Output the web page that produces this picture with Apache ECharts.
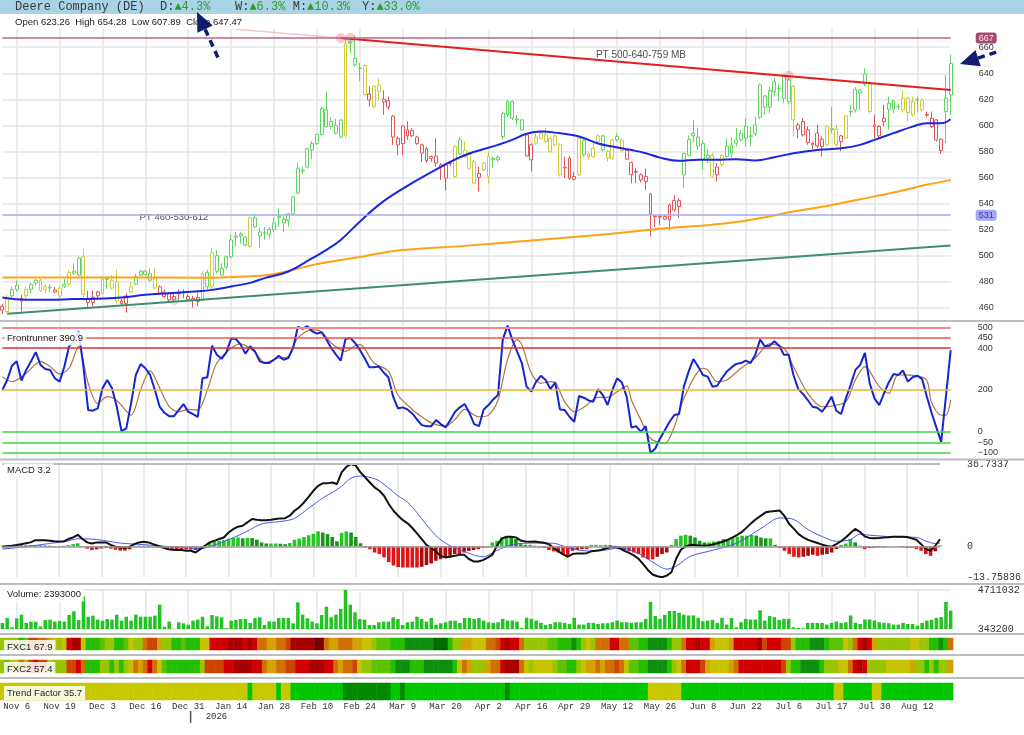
<!DOCTYPE html>
<html><head><meta charset="utf-8">
<script src="https://cdn.jsdelivr.net/npm/echarts@6/dist/echarts.min.js"></script>
<style>html,body{margin:0;padding:0;background:#fff}#c{width:1024px;height:735px}</style>
</head><body><div id="c"></div>
<script>
// ---------- categories (trading days) ----------
const closedOrMissing = new Set(['2025-11-27','2025-12-25','2025-12-26','2026-01-01','2026-01-19','2026-02-16','2026-04-03','2026-05-25','2026-06-19','2026-07-03']);
const MON = ['Jan','Feb','Mar','Apr','May','Jun','Jul','Aug','Sep','Oct','Nov','Dec'];
const dates = [], years = [];
for (let t = Date.UTC(2025,10,3); dates.length < 200; t += 86400000) {
  const d = new Date(t), wd = d.getUTCDay();
  if (wd === 0 || wd === 6) continue;
  if (closedOrMissing.has(d.toISOString().slice(0,10))) continue;
  dates.push(MON[d.getUTCMonth()] + ' ' + d.getUTCDate());
  years.push(d.getUTCFullYear());
}
const tickLabels = ['Nov 6','Nov 19','Dec 3','Dec 16','Dec 31','Jan 14','Jan 28','Feb 10','Feb 24','Mar 9','Mar 20','Apr 2','Apr 16','Apr 29','May 12','May 26','Jun 8','Jun 22','Jul 6','Jul 17','Jul 30','Aug 12'];
const priceTicks = [460,480,500,520,540,560,580,600,620,640,660];
const frontTicks = [500,450,400,200,0,-50,-100];
const macdTicks = [36.7337,0,-13.75836];
const volTicks = [4711032,343200];

// ---------- price (OHLC) ----------
const opens = [
458,457,469,474,465,469,474,479,481,474, 475,472,469,478,478,488,485,499,467,464,
472,471,481.5,481,480,465,463,472,478,485, 485.5,486,483,476,472,471,466,470.5,471.5,468.5,
465.4,464.7,466,487,476,500,485,491,499,514, 515,514,507,529,518,517,516,520,529,525,
527,532,548,565,568,581,586,593,612,599, 594,604,592,664,651.5,643.5,646,624,614.5,626,
618,619,607,585,586,596.5,592,591,585,582, 574.7,576.5,568.3,569.6,570.5,560.7,588.8,576,578.6,572.2,
560,566,560.7,573.5,573.5,591.4,608,618.3,604.2,604.2, 592.7,573.5,586.3,590.1,592.7,590.1,585,585,567.3,574.7,
558.6,562,588.3,576,582.4,587.5,591.9,579.9,574.7,591.4, 588.8,580.6,571.4,564,562,556.8,547.3,529.8,529.5,527.9,
527.4,535,537.6,562,577,594,591,586,575,577, 562,570,576,578.6,586.3,594,590.1,591.5,593.4,606.2,
622.6,613.9,625.9,628.2,637.5,618.3,629.8,600.3,602.9,596.5, 585,594,583.7,585,596.8,597,587.5,590.1,610.3,611.9,
627.2,631.8,631.8,600.3,599.1,603,612,619,614.2,611.9, 620.8,608,619.5,619.5,607.8,605.5,604.2,589.3,610.6,623.26];
const highs = [
463,470,476,481,470,476,479,482,482,478, 478,476,476,482,489,494,499,505,473,473,
473,484,484,485,489,467,471,480,486,489, 489,490,490,477,474,472,471,474,474,470,
469,471,488,489,506,504,494,500,516,518, 518,515,530,532,521,522,522,529,536,530,
533,546,571,568,583,588,593.5,614,626,606, 605,605,668,667,669,648,647,630,630.5,636,
627,622,608,591.5,600,603,598,592,586,583.7, 577,590,571,571,572,585,590.9,587.5,579.9,573.5,
568.3,572.2,579.9,576,577,610.6,619.5,619,608,604.7, 593.4,586.3,593.9,595.2,597.8,591.9,593.4,586.3,576,576,
564.5,591.4,589.3,579,586.3,593.4,592.7,581.1,590.1,593.9, 590.1,581.6,572.2,567,563.2,567,547.8,531,532,531.5,
540,546.5,544,579,592,604,598,589,582,579, 571,578,590,591,597.8,596.5,605.5,599,606.7,632.3,
623.4,629.8,636.2,632.3,638.8,638,631,602.1,605.5,599.1, 587.5,600.3,591.4,600.3,614.4,600.3,592.7,608,615.7,629.3,
627.7,643.9,633.6,608,600.3,615.7,622.1,619.5,616.5,627.2, 622.1,622.1,622.1,620.8,610.6,610.6,604.7,590.1,638.7,654.28];
const lows = [
455,456,467,472,457,467,471,477,472,471, 472,471,467,475,476,485,484,468,460,461,
467,470,474,474,463,461,456,471,477,484, 484,480,474,470,467,465,465,466,467,465,
460,461,465,474,474,486,484,489,498,507, 509,507,506,521,506,512,513,518,522,518,
522,531,547,563,567,574,585,592,598,597, 593,590,590,655,645,634,623,614.5,613,619.5,
608,612,585,577,577,589,591,585,572,571, 572,568,558,550,568.5,559.4,577.3,575,565.8,555,
549.1,564.5,555.5,567,572,589.3,606.7,604.2,600.3,596, 576,564.5,585,588.8,586.3,578.6,583.7,560.7,559.4,558,
557.6,560.7,576,573.5,574.7,586.3,579.9,572.2,573.5,587.5, 579.9,573.5,555.5,555.5,556,550.4,514.6,522,523.5,527.4,
519.7,533.7,528.7,552,576,587,581,566,571,560, 557,568,575,575,583.7,587.5,583.7,584,591.9,604.7,
608,609.3,622.1,618.3,617,616,591.4,590.1,591.4,585, 581.6,582.4,576,583.7,594,583.7,579.9,589.3,606.7,609.8,
611.9,629.8,609.3,590.1,589.3,599.1,597,609.3,611.9,609.8, 602.9,606.7,610.6,610.6,606.2,597.8,587.5,578,586.3,607.89];
const closes = [
461,468,474,477,467,474,477.5,481,473,476, 475.6,473.5,475,476,487,486.5,498,470,464,468,
469,482,482.5,475,465,463,469,476,484,488, 488,481,475,471,468.5,466,468.5,472,472.2,466,
467,467.7,486,476,502,488,490,499,512,515, 516.5,508,529,522,515,517.6,520,525,530,528,
532,545,567,565.6,582,586,593,613,599,603, 600,591,663,663,646.4,644,623.5,619.5,630,631,
620,614,591,590,599.5,592,596,586,578.6,573, 576,571,569.6,559.4,571,583.7,578,581,567,555.5,
563,571,576,574.7,575.5,609.3,618.3,605.5,604.8,596.5, 576.5,585,590.9,594,587.5,579.9,591.9,562,567.8,559.4,
560.7,590.1,577.3,578,576,591.9,581.1,574.7,588.8,588.8, 580.6,574,562,564.5,558,560.7,532,530.2,530,530,
538.9,542.2,542.2,578.5,589,592,584,574,577,561, 568,577,584,585,588.8,588.8,599.1,592,600.3,631,
613.9,626.7,633.6,628.6,620.8,634.9,604.2,597,592.7,586.8, 586.3,584.2,589.3,599.1,597.5,585,591.9,607.3,610.8,627.7,
624.7,639.5,610.6,599,591.9,605.5,617,612.4,614.6,620.8, 609.8,618.3,620,611.9,608.3,599.1,588.8,580.6,620.8,647.47];
// candle tone: g = green, y = yellow, r = red
const candleTone = (
 'ryggryggyy'+'grygyggyrr'+'rygyyrrygg'+'ggyrrrrrrr'+'rrygyggggg'+
 'ggyggggggg'+'gggggggggg'+'ggygggyryy'+'rrrrrrrrrr'+'rrrrrygyyy'+
 'ryyggggggg'+'rryyyyyyrr'+'rygyyygyyg'+'yrrrrrrrrr'+'rrrggggggy'+
 'rygggggggg'+'ggggggyrrr'+'rrrygyrygg'+'ggyrrrgggy'+'yygyrrrrgg').split('');

// moving averages & trendlines [barIndex, price]
const ma50 = [[0,467.7],[5,466],[10,466],[15,466.5],[20,466.7],[25,467.7],[30,469.8],[35,471],[40,472.3],[44,473.6],[48,476.2],[52,479],[55,482.6],[60,487.7],[65,497.9],[68,504.3],[71,512],[75,526],[79,538.9],[83,549],[90,564],[97,577],[104,585],[107,588.8],[110,593.5],[113,595.2],[116,594.4],[121,591.4],[125,586],[128,583.7],[132,581],[135,578.6],[138,575.2],[142,572.7],[146,573.5],[150,573.5],[154,574],[158,573],[162,575.5],[166,578.6],[171,581.1],[176,582.4],[180,585],[183,588.8],[187,594],[191,599],[194,601.6],[197,601.6],[199,604.7]];
const ma200 = [[0,483.1],[20,483.1],[44,483],[54,484.4],[58,486.5],[61,489],[66,493.5],[70,496],[76,499.5],[83,503.8],[97,507.4],[111,511.5],[125,515.8],[138,520.5],[145,522.5],[152,524.8],[159,528.7],[166,533.8],[173,538.1],[180,543.2],[187,548.4],[194,554.3],[199,558.1]];
const redTrend = [[71,667],[199,627.2]];
const redTrendFaint = [[49,673.8],[71,667]];
const greenTrend = [[1,455.2],[199,507.7]];
const resistance = 667, support = 531;
const touchPoints = [[71,667],[73,667],[165,638]];
const grayPoint = [[36,465]];
const notes = [{at:[134,654], text:'PT 500-640-759 MB'}, {at:[36,529], text:'PT 460-530-612'}];

// ---------- Frontrunner ----------
const frontrunner = [
200,248,316,337,245,296,337,381,320,300, 296,256,240,312,409,433,481,312,104,101,
112,208,248,208,120,3,16,136,272,324, 304,272,200,120,91,75,75,104,133,96,
85,72,256,261,412,369,349,380,446,444, 417,373,409,385,337,329,329,345,364,345,
353,401,502,492,505,481,470,476,441,401, 369,341,444,449,425,393,353,309,309,312,
284,261,168,112,117,107,88,59,32,27, 27,56,37,21,56,96,117,133,91,37,
27,107,128,155,176,441,508,441,385,329, 216,192,240,268,248,204,236,107,104,72,
48,171,163,150,144,204,176,128,200,256, 236,168,21,27,0,27,-101,-80,-32,8,
48,80,85,216,288,348,312,272,264,216, 220,256,288,308,325,329,341,329,369,441,
409,412,433,412,369,369,272,204,181,152, 120,115,96,128,168,101,85,160,224,296,
320,377,232,160,128,184,236,277,272,293, 240,261,268,252,168,90,20,-48,170,390.9];
const frontSignal = [[0,264],[2,240],[5,280],[8,337],[10,312],[12,277],[14,304],[16,409],[18,232],[20,136],[22,168],[24,150],[27,80],[29,200],[31,293],[33,210],[35,120],[37,96],[39,107],[41,104],[43,200],[45,329],[48,400],[50,421],[53,380],[55,332],[58,353],[60,361],[62,449],[65,489],[67,478],[69,425],[72,385],[74,412],[75,417],[78,329],[81,290],[83,176],[86,107],[88,72],[90,43],[93,27],[95,60],[97,107],[100,72],[102,80],[104,152],[106,345],[108,441],[109,417],[111,280],[113,232],[115,240],[116,236],[118,144],[120,96],[122,117],[125,165],[127,165],[129,192],[131,220],[132,152],[134,56],[136,-32],[139,-56],[141,24],[143,160],[147,304],[148,296],[150,240],[152,248],[155,304],[158,353],[161,421],[164,401],[166,312],[169,184],[172,120],[174,123],[177,144],[179,248],[181,312],[184,216],[186,184],[188,272],[192,268],[194,245],[195,139],[197,80],[198,80],[199,152]];
const frontLevels = [500,450,400,200,0,-50,-100];

// ---------- MACD ----------
const macdLine = [
-0.1,0.1,0.3,0.6,1.0,1.4,1.8,2.8,2.8,2.7, 2.5,2.3,2.2,2.2,3.3,4.0,5.2,3.3,1.8,1.3,
1.8,1.8,1.8,0.7,-0.1,-0.4,-0.7,-0.1,1.0,1.8, 2.1,1.8,1.0,0.3,-0.4,-1.2,-1.5,-1.6,-1.6,-1.9,
-1.9,-2.7,-1.2,0.3,1.8,2.5,3.3,4.0,6.2,7.7, 8.8,9.2,10.7,12.2,11.9,11.7,11.7,11.9,12.2,12.5,
12.6,13.7,15.9,17.4,19.6,22.1,24.8,27.0,28.1,28.1, 28.5,27.8,33.0,35.5,36.7337,36.0,33.0,30.8,28.5,26.3,
24.8,22.6,18.9,15.9,13.7,11.7,10.3,8.2,5.8,3.3, 0.7,-0.7,-2.2,-4.2,-4.9,-4.6,-4.2,-3.7,-3.7,-5.6,
-6.7,-6.7,-6.1,-5.0,-3.7,0.5,3.5,4.3,4.3,4.0, 2.6,2.2,2.1,2.2,1.9,1.6,1.0,-0.6,-2.2,-3.5,
-4.6,-3.4,-3.1,-3.1,-3.0,-2.2,-1.9,-1.6,-0.9,-0.4, -0.1,-0.8,-2.0,-2.9,-4.0,-5.5,-7.9,-10.5,-12.5,-13.3,
-13.75836,-13.0,-11.5,-5.5,-1.5,0.0,0.7,0.6,0.3,0.3, 0.5,1.0,1.5,2.2,3.0,4.0,5.2,6.5,8.5,10.5,
12.2,13.7,15.2,15.6,15.8,16.0,13.5,10.0,7.8,5.5, 4.0,2.9,2.2,1.5,0.8,0.2,-0.1,1.0,2.3,4.0,
6.0,7.8,6.5,4.5,3.8,3.6,3.7,4.0,4.1,4.3, 4.3,4.3,4.2,3.6,3.0,1.0,-1.2,-1.9,0.3,3.2];
const macdSignal = [[0,-1.2],[5,-0.1],[10,1.3],[14,2.5],[16,3.4],[20,3.1],[25,1.5],[30,0.8],[35,0.0],[40,-0.7],[42,-1.0],[45,0.6],[48,3.0],[50,4.8],[52,6.8],[55,10.0],[60,11.4],[62,12.5],[65,17.0],[68,21.6],[70,24.0],[72,26.8],[74,30.4],[76,31.4],[78,30.8],[80,29.2],[84,22.5],[86,19.7],[88,15.0],[92,4.8],[95,0.3],[98,-2.2],[100,-3.8],[102,-4.6],[105,-1.8],[108,0.8],[113,1.5],[117,1.4],[120,-0.6],[124,-2.0],[127,-1.9],[131,-0.7],[134,-2.2],[136,-4.2],[138,-7.0],[141,-10.1],[143,-8.8],[146,-4.4],[151,-1.6],[156,1.6],[161,8.0],[165,12.7],[168,12.0],[171,7.5],[174,4.4],[177,2.3],[180,3.0],[182,5.5],[184,5.0],[189,4.3],[194,4.0],[196,2.4],[198,1.3],[199,1.5]];
const macdHist = [
0.4,0.5,0.4,0.5,0.6,0.5,0.6,0.6,0.5,0.4, 0.3,0.2,0.1,0.3,0.6,1.0,1.4,0.2,-1.0,-1.6,
-1.3,-0.9,-0.7,-1.0,-1.5,-1.9,-1.9,-1.3,0.3,0.4, 0.4,0.3,0.1,-0.5,-0.8,-1.1,-1.3,-1.2,-1.1,-1.3,
-1.4,-1.6,-0.5,0.5,1.5,2.0,2.5,2.8,3.4,3.8, 4.0,3.6,3.8,3.7,3.0,1.8,1.3,1.3,1.3,1.2,
1.0,1.5,3.0,3.5,4.2,5.0,5.6,6.7,6.2,5.5, 4.2,2.3,6.0,6.7,6.2,4.2,1.4,-0.5,-1.2,-2.7,
-3.4,-4.9,-7.0,-8.5,-9.2,-9.4,-9.4,-9.4,-9.4,-9.1, -8.3,-7.6,-6.4,-5.7,-4.9,-4.2,-3.4,-3.4,-2.7,-2.0,
-1.6,-1.2,-0.6,-0.4,1.8,2.5,4.0,4.5,4.3,3.3, 1.0,0.7,0.7,0.3,-0.4,-0.7,-1.6,-2.2,-2.7,-3.7,
-4.2,-1.9,-1.6,-1.2,-1.2,0.7,0.7,0.5,0.7,0.6, -0.4,-1.2,-1.6,-2.2,-2.7,-3.4,-4.9,-5.7,-5.7,-4.6,
-3.4,-2.7,0.7,3.3,4.8,5.2,4.8,4.0,2.5,1.8, 1.8,2.2,2.5,3.3,3.3,3.7,4.3,4.8,4.8,5.1,
4.8,4.0,3.6,3.6,0.7,-0.7,-1.9,-3.4,-4.6,-4.9, -4.6,-4.2,-3.7,-4.2,-3.7,-3.4,-2.7,-1.2,0.7,1.3,
3.3,1.8,0.3,-1.2,-0.7,-0.7,-0.4,-0.4,-0.1,0.1, -0.1,-0.4,-0.7,-0.7,-1.2,-1.9,-3.4,-4.2,-2.2,0.5];

// ---------- Volume (thousands of shares) ----------
const volumeK = [
1020,1580,530,1540,1950,1020,1170,1170,640,1350, 1390,1170,1240,1170,1910,2320,1350,4000,1720,1840,
1390,1280,1460,1390,1950,1280,1720,1280,1950,1720, 1720,1720,1840,3070,600,1170,360,1090,980,830,
1280,1390,1720,640,1910,1760,1650,450,1280,1350, 1460,1460,1020,1580,1650,790,1200,1170,1580,1580,
1580,980,3330,1950,1540,1170,980,1910,2840,1650, 1950,2580,4711.032,3070,2210,1460,1390,790,790,1090,
1170,1170,1650,1460,790,1090,1170,1720,1460,1170, 1580,830,980,1090,1280,1280,1020,1580,1580,1460,
1580,1280,1090,1030,1100,1480,1290,1290,1180,460, 1600,1480,1290,1030,800,910,1100,1100,1030,910,
1600,840,840,1030,1030,910,990,990,1100,1290, 1100,1100,1030,1100,1100,1480,3380,1790,1480,1940,
2360,2360,2170,1940,1860,1860,1600,1220,1290,1370, 1030,1600,840,1560,530,1100,1480,1410,1410,2430,
1290,1790,1670,1370,1480,1480,530,460,420,1030, 1030,1030,1030,840,1030,1180,1030,1100,1860,1030,
910,1410,1410,1290,1100,1030,990,840,840,1030, 910,910,720,1030,1290,1370,1600,1670,3380,2393];

// ---------- heat strips ----------
const fxc1 = [
40,40,45,40,30,35,75,75,68,68,60,50,45,50,82,88,88,50,30,28,
30,35,40,42,30,28,35,50,42,45,68,75,75,60,42,38,30,30,32,28,
28,30,50,50,82,82,84,85,88,88,88,82,88,82,68,68,62,62,68,68,
72,88,88,90,90,90,95,95,68,60,55,68,70,68,60,60,50,50,42,35,
35,35,25,25,22,20,20,20,20,20,20,12,12,14,28,40,40,62,62,50,
50,50,66,68,75,82,88,84,84,68,42,42,42,40,40,35,35,28,28,28,
18,28,40,50,42,68,68,68,82,82,70,66,35,35,28,28,18,18,18,18,
28,40,40,66,84,84,88,82,82,60,50,50,50,58,82,82,82,84,84,90,
78,82,82,82,75,75,40,30,30,30,18,18,18,28,34,34,34,50,42,68,
82,88,82,60,42,42,45,45,45,45,45,52,52,42,42,30,30,18,30,67.9];
const fxc2 = [
40,35,50,50,68,60,75,80,75,75,50,42,42,42,75,75,82,68,30,30,
30,40,40,30,40,30,40,50,68,60,68,82,68,50,35,30,30,30,30,30,
30,30,42,75,75,75,78,82,82,88,88,88,88,82,82,68,62,62,68,68,
75,75,82,82,82,90,90,90,82,82,68,60,68,68,75,50,42,42,33,33,
33,33,28,18,18,18,28,24,24,16,16,16,16,16,16,28,50,66,58,42,
42,42,55,68,68,82,90,90,90,68,50,42,46,46,46,46,40,32,32,26,
26,40,50,60,60,66,60,66,66,74,66,50,36,36,28,28,16,16,16,16,
28,40,50,68,84,84,84,75,58,50,50,50,50,60,68,82,82,82,82,82,
82,82,82,82,75,40,30,30,16,16,16,16,28,40,40,40,50,50,68,82,
90,82,40,42,42,42,52,52,52,52,52,60,40,40,30,40,30,40,42,57.4];
const trendFactor = [
15,15,15,15,15,15,15,15,15,15,15,15,15,15,15,15,15,15,15,15,
15,15,15,15,15,15,15,15,15,15,15,15,15,15,15,15,15,15,15,15,
15,15,15,15,15,15,15,15,15,15,15,15,35,15,15,15,15,15,35,15,
15,35,35,35,35,35,35,35,35,35,35,35,50,50,50,50,50,50,50,50,
50,50,35,35,50,35,35,35,35,35,35,35,35,35,35,35,35,35,35,35,
35,35,35,35,35,35,50,35,35,35,35,35,35,35,35,35,35,35,35,35,
35,35,35,35,35,35,35,35,35,35,35,35,35,35,35,35,15,15,15,15,
15,15,15,35,35,35,35,35,35,35,35,35,35,35,35,35,35,35,35,35,
35,35,35,35,35,35,35,35,35,35,35,35,35,35,35,15,15,35,35,35,
35,35,35,15,15,35,35,35,35,35,35,35,35,35,35,35,35,35,35,35.7];

const header = {name:'Deere Company (DE)', D:'\u25B24.3%', W:'\u25B26.3%', M:'\u25B210.3%', Y:'\u25B233.0%'};
const last = {open:623.26, high:654.28, low:607.89, close:647.47, front:390.9, macd:3.2, volume:2393000, fxc1:67.9, fxc2:57.4, trend:35.7};

// ---------- build ----------
const tickIdx = new Set(tickLabels.map(l => dates.indexOf(l)));
const TONE = {
  g:{fill:'#1fb81f', hollow:'#5fd65f'},
  y:{fill:'#c4c000', hollow:'#cfcc3a'},
  r:{fill:'#d40000', hollow:'#e05656'}
};
const candles = opens.map((o,i) => {
  const t = TONE[candleTone[i]];
  return {value:[o, closes[i], lows[i], highs[i]],
    itemStyle:{color:'#ffffff', color0:t.fill, borderColor:t.hollow, borderColor0:t.fill, borderWidth:1}};
});
const L = 2.4, R = 73.3;
const grids = [
  {left:L, right:R, top:29, height:291.6},
  {left:L, right:R, top:321, height:138},
  {left:L, right:R, top:464, height:113.3},
  {left:L, right:R, top:590, height:39},
  {left:L, right:R, top:638, height:12},
  {left:L, right:R, top:660, height:13},
  {left:L, right:R, top:683, height:17}
];
const xAxes = grids.map((g,k) => ({
  type:'category', gridIndex:k, data:dates, boundaryGap:false,
  axisLine:{show:false}, axisTick:{show:false},
  axisLabel:{show:k===6, interval:(i)=>tickIdx.has(i), fontFamily:'Liberation Mono', fontSize:9, color:'#333', margin:2},
  splitLine:{show:k<=3, interval:(i)=>tickIdx.has(i), lineStyle:{color:'#e6e6e6', width:1.5}}
}));
const sansLbl = {fontFamily:'Liberation Sans', fontSize:9, color:'#333'};
const monoLbl = {fontFamily:'Liberation Mono', fontSize:10, color:'#333'};
const yAxes = [
  {type:'value', gridIndex:0, position:'right', min:450, max:674, axisLine:{show:false},
   axisTick:{show:false, customValues:priceTicks}, axisLabel:Object.assign({customValues:priceTicks, margin:28}, sansLbl),
   splitLine:{show:true, lineStyle:{color:'#e6e6e6', width:1.5}}},
  {type:'value', gridIndex:1, position:'right', min:-130, max:530, axisLine:{show:false},
   axisTick:{show:false, customValues:frontTicks}, axisLabel:Object.assign({customValues:frontTicks, margin:27, formatter:v => v<0 ? '\u2212'+Math.abs(v) : String(v)}, sansLbl),
   splitLine:{show:false}},
  {type:'value', gridIndex:2, position:'right', min:-13.75836, max:36.7337, axisLine:{show:false},
   axisTick:{show:false, customValues:macdTicks}, axisLabel:Object.assign({customValues:macdTicks, margin:27, formatter:v => String(v)}, monoLbl),
   splitLine:{show:false}},
  {type:'value', gridIndex:3, position:'right', min:343200, max:4711032, axisLine:{show:false},
   axisTick:{show:false, customValues:volTicks}, axisLabel:Object.assign({customValues:volTicks, margin:27, formatter:v => String(v)}, monoLbl),
   splitLine:{show:true, lineStyle:{color:'#e2e2e2', width:1.5}}},
  {type:'category', gridIndex:4, data:['v'], show:false},
  {type:'category', gridIndex:5, data:['v'], show:false},
  {type:'category', gridIndex:6, data:['v'], show:false}
];
const series = [];
const add = s => (series.push(s), series.length - 1);
add({type:'candlestick', xAxisIndex:0, yAxisIndex:0, data:candles, barWidth:3.4, silent:true,
  markLine:{silent:true, symbol:['none','none'], data:[
    {yAxis:resistance, lineStyle:{color:'#b8668d', width:1.5, type:'solid'},
     label:{show:true, position:'end', distance:25, formatter:String(resistance), color:'#fbe8f0', backgroundColor:'#a54a72', padding:[1,3], borderRadius:3, fontSize:9, fontFamily:'Liberation Sans'}},
    {yAxis:support, lineStyle:{color:'#a4aaf0', width:1.5, type:'solid'},
     label:{show:true, position:'end', distance:25, formatter:String(support), color:'#3a3a9a', backgroundColor:'#a7a7f2', padding:[1,3], borderRadius:3, fontSize:9, fontFamily:'Liberation Sans'}}
  ]}});
add({type:'line', xAxisIndex:0, yAxisIndex:0, data:ma200, symbol:'none', smooth:0.4, lineStyle:{color:'#ffa214', width:2}, silent:true});
add({type:'line', xAxisIndex:0, yAxisIndex:0, data:greenTrend, symbol:'none', lineStyle:{color:'#3f8f6c', width:2}, silent:true});
add({type:'line', xAxisIndex:0, yAxisIndex:0, data:redTrendFaint, symbol:'none', lineStyle:{color:'rgba(232,110,110,0.4)', width:1.5}, silent:true});
add({type:'line', xAxisIndex:0, yAxisIndex:0, data:redTrend, symbol:'none', lineStyle:{color:'#e21e1e', width:2}, silent:true});
add({type:'line', xAxisIndex:0, yAxisIndex:0, data:ma50, symbol:'none', smooth:0.4, lineStyle:{color:'#1a26e6', width:2}, silent:true});
add({type:'scatter', xAxisIndex:0, yAxisIndex:0, data:touchPoints, symbolSize:10, itemStyle:{color:'rgba(228,120,130,0.5)'}, silent:true});
add({type:'scatter', xAxisIndex:0, yAxisIndex:0, data:grayPoint, symbolSize:9, itemStyle:{color:'rgba(150,150,150,0.35)'}, silent:true});
add({type:'scatter', xAxisIndex:0, yAxisIndex:0, symbolSize:1, itemStyle:{color:'rgba(0,0,0,0)'}, silent:true,
  data:notes.map(n => ({value:n.at, label:{show:true, position:'inside', formatter:n.text, color:'#222', fontSize:n.text.length>15?10:9.5, fontFamily:'Liberation Sans'}}))});
// Frontrunner
const levelColors = {500:'#f08c8c', 450:'#e85858', 400:'#de3030', 200:'#e4b63a', 0:'#3fd43f', '-50':'#3fd43f', '-100':'#3fd43f'};
add({type:'line', xAxisIndex:1, yAxisIndex:1, data:frontSignal, symbol:'none', smooth:0.3, lineStyle:{color:'#b07448', width:1.2}, silent:true,
  markLine:{silent:true, symbol:['none','none'], label:{show:false},
    data:frontLevels.map(v => ({yAxis:v, lineStyle:{color:levelColors[v], width:v===500?2.2:1.5, type:'solid'}}))}});
add({type:'line', xAxisIndex:1, yAxisIndex:1, data:frontrunner, symbol:'none', lineStyle:{color:'#1426d2', width:2}, silent:true});
// MACD
add({type:'bar', xAxisIndex:2, yAxisIndex:2, data:macdHist, barWidth:3.6, silent:true,
  itemStyle:{color:p => { const v = macdHist[p.dataIndex], pv = p.dataIndex>0 ? macdHist[p.dataIndex-1] : v;
    if (v >= 0) return v >= pv ? '#22c922' : '#179617'; return v <= pv ? '#e01414' : '#a80c0c'; }},
  markLine:{silent:true, symbol:['none','none'], label:{show:false}, data:[
    {yAxis:0, lineStyle:{color:'#9a9a9a', width:1.5, type:'solid'}},
    {yAxis:36.7337, lineStyle:{color:'#bdbdbd', width:2, type:'solid'}},
    {yAxis:-13.75836, lineStyle:{color:'#bdbdbd', width:2, type:'solid'}}]}});
add({type:'line', xAxisIndex:2, yAxisIndex:2, data:macdSignal, symbol:'none', smooth:0.3, lineStyle:{color:'#4a58ee', width:1}, silent:true});
add({type:'line', xAxisIndex:2, yAxisIndex:2, data:macdLine, symbol:'none', lineStyle:{color:'#111', width:2}, silent:true});
// Volume
add({type:'bar', xAxisIndex:3, yAxisIndex:3, data:volumeK.map(v => v*1000), barWidth:3.5, itemStyle:{color:'#22c322'}, silent:true});
// strips
const s1 = add({type:'heatmap', xAxisIndex:4, yAxisIndex:4, data:fxc1.map((v,i)=>[i,0,v]), silent:true, itemStyle:{borderWidth:0}});
const s2 = add({type:'heatmap', xAxisIndex:5, yAxisIndex:5, data:fxc2.map((v,i)=>[i,0,v]), silent:true, itemStyle:{borderWidth:0}});
const s3 = add({type:'heatmap', xAxisIndex:6, yAxisIndex:6, data:trendFactor.map((v,i)=>[i,0,v]), silent:true, itemStyle:{borderWidth:0}});

const fxcPieces = [
  {lt:15, color:'#006c00'}, {gte:15, lt:22, color:'#0f8f0f'}, {gte:22, lt:32, color:'#24be00'},
  {gte:32, lt:38, color:'#5cc200'}, {gte:38, lt:46, color:'#98c400'}, {gte:46, lt:55, color:'#c6c200'},
  {gte:55, lt:64, color:'#d4a200'}, {gte:64, lt:72, color:'#d07000'}, {gte:72, lt:80, color:'#cc4400'},
  {gte:80, lt:86, color:'#d00000'}, {gte:86, lt:92, color:'#a80000'}, {gte:92, color:'#760000'}];
const trendPieces = [{lt:25, color:'#c8c800'}, {gte:25, lt:45, color:'#00c600'}, {gte:45, color:'#008a00'}];

const chart = echarts.init(document.getElementById('c'));
chart.setOption({
  animation:false, backgroundColor:'#ffffff',
  grid:grids, xAxis:xAxes, yAxis:yAxes, series:series,
  visualMap:[
    {type:'piecewise', show:false, seriesIndex:[s1,s2], dimension:2, pieces:fxcPieces},
    {type:'piecewise', show:false, seriesIndex:s3, dimension:2, pieces:trendPieces}
  ]
});

// ---------- overlay graphics ----------
const yearIdx = years.indexOf(2026);
const xa = chart.convertToPixel({xAxisIndex:6}, yearIdx - 1), xb = chart.convertToPixel({xAxisIndex:6}, yearIdx);
const xTick = (xa + xb) / 2;
const sep = y => ({type:'line', shape:{x1:0, y1:y, x2:1024, y2:y}, style:{stroke:'#bdbdbd', lineWidth:2}, z:50, silent:true});
const lbl = (text, x, y) => ({type:'text', x:x, y:y, z:60, silent:true,
  style:{text:text, font:'9.5px "Liberation Sans"', fill:'#222', verticalAlign:'middle', backgroundColor:'rgba(255,255,255,0.85)', padding:[2,3]}});
const NAVY = '#0f1c70';
const hdr = (k, v, x) => ({type:'text', x:x, y:7, z:60, silent:true,
  style:{text:'{k|' + k + ':}{v|' + v + '}', verticalAlign:'middle',
    rich:{k:{fill:'#3a3a3a', font:'12px "Liberation Mono"'}, v:{fill:'#2f9a2f', font:'12px "Liberation Mono"'}}}});
chart.setOption({graphic:{elements:[
  {type:'rect', shape:{x:0, y:0, width:1024, height:14}, style:{fill:'#a9d4e6'}, z:40, silent:true},
  {type:'text', x:15, y:7, z:60, silent:true, style:{text:header.name, font:'12px "Liberation Mono"', fill:'#3a3a3a', verticalAlign:'middle'}},
  hdr('D', header.D, 160), hdr('W', header.W, 235), hdr('M', header.M, 292.7), hdr('Y', header.Y, 362),
  {type:'text', x:15, y:22.5, z:60, silent:true, style:{text:'Open '+last.open+'  High '+last.high+'  Low '+last.low+'  Close '+last.close, font:'9.5px "Liberation Sans"', fill:'#222', verticalAlign:'middle'}},
  sep(321), sep(459.5), sep(584), sep(634), sep(655), sep(678),
  lbl('Frontrunner ' + last.front, 4, 338.5),
  lbl('MACD ' + last.macd, 4, 470.5),
  lbl('Volume: ' + last.volume, 4, 594.5),
  lbl('FXC1 ' + last.fxc1, 4, 647),
  lbl('FXC2 ' + last.fxc2, 4, 669),
  lbl('Trend Factor ' + last.trend, 4, 693),
  {type:'line', shape:{x1:xTick, y1:711, x2:xTick, y2:723}, style:{stroke:'#555', lineWidth:1.5}, z:60, silent:true},
  {type:'text', x:xTick + 15, y:717, z:60, silent:true, style:{text:String(years[yearIdx]), font:'9px "Liberation Mono"', fill:'#333', verticalAlign:'middle'}},
  // annotation arrows
  {type:'polyline', shape:{points:[[205.1,29.2],[220,62]]}, style:{stroke:NAVY, lineWidth:3.5, lineDash:[7,5], fill:null}, z:70, silent:true},
  {type:'polygon', shape:{points:[[197,12],[212.8,25.6],[197.4,32.8]]}, style:{fill:NAVY}, z:70, silent:true},
  {type:'polyline', shape:{points:[[978.1,58.1],[1001,50.6]]}, style:{stroke:NAVY, lineWidth:3.5, lineDash:[7,5], fill:null}, z:70, silent:true},
  {type:'polygon', shape:{points:[[960,64],[980.7,66.2],[975.5,50]]}, style:{fill:NAVY}, z:70, silent:true}
]}});
</script></body></html>
